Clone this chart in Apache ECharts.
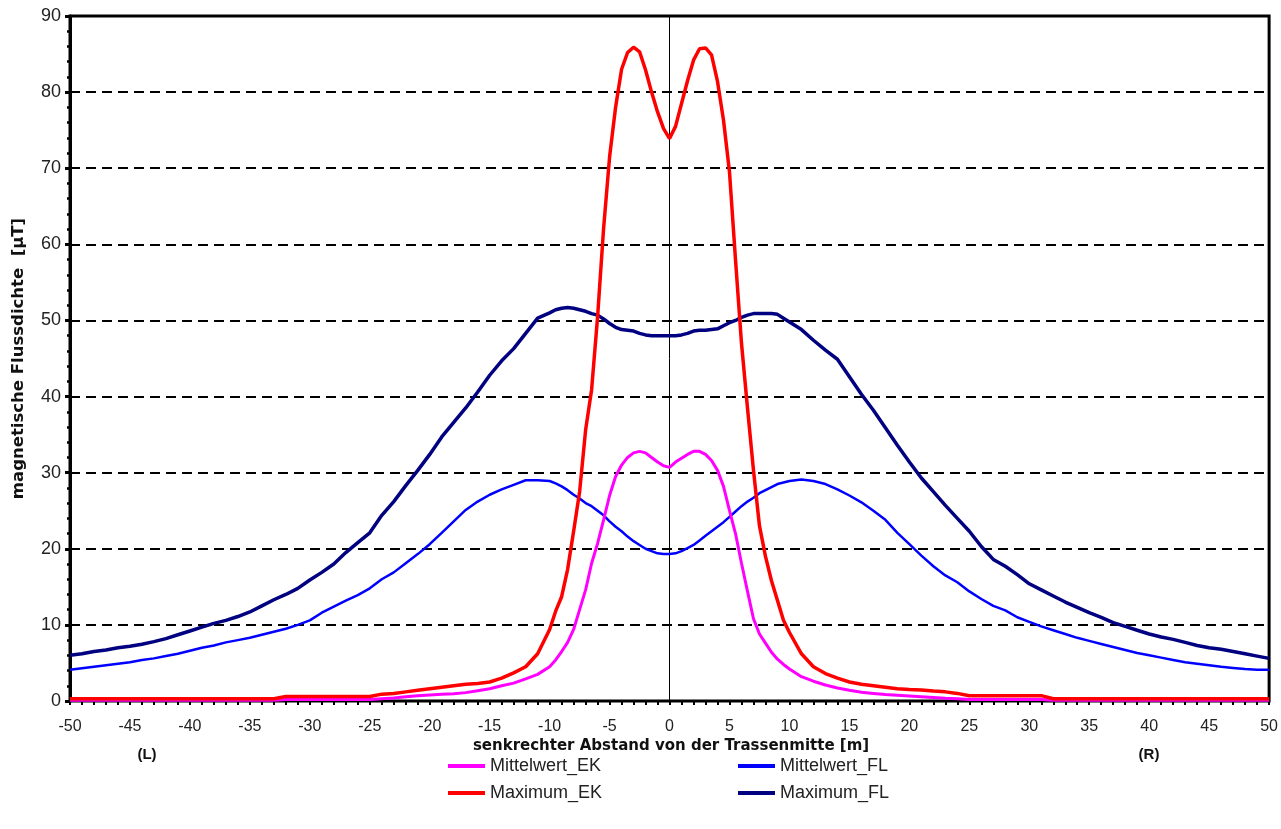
<!DOCTYPE html>
<html>
<head>
<meta charset="utf-8">
<script src="https://cdn.jsdelivr.net/npm/echarts@6/dist/echarts.min.js"></script>
<style>
html,body{margin:0;padding:0;background:#fff;}
#chart{width:1281px;height:829px;}
</style>
</head>
<body>
<div id="chart"></div>
<script>
// distance from line centre [m]
const xs = [
  -50,-49,-48,-47,-46,-45,-44,-43,-42,-41,
  -40,-39,-38,-37,-36,-35,-34,-33,-32,-31,
  -30,-29,-28,-27,-26,-25,-24,-23,-22,-21,
  -20,-19,-18,-17,-16,-15,-14,-13,-12,-11,
  -10,-9.5,-9,-8.5,-8,-7.5,-7,-6.5,-6,-5.5,
  -5,-4.5,-4,-3.5,-3,-2.5,-2,-1.5,-1,-0.5,
  0,
  0.5,1,1.5,2,2.5,3,3.5,4,4.5,5,
  5.5,6,6.5,7,7.5,8,8.5,9,9.5,10,
  11,12,13,14,15,16,17,18,19,20,
  21,22,23,24,25,26,27,28,29,30,
  31,32,33,34,35,36,37,38,39,40,
  41,42,43,44,45,46,47,48,49,50
];
const maximumFL = [
  6.0,6.2,6.5,6.7,7.0,7.2,7.45,7.8,8.2,8.7,
  9.2,9.7,10.2,10.6,11.1,11.7,12.5,13.3,14.0,14.8,
  15.9,16.9,18.0,19.5,20.8,22.1,24.4,26.2,28.3,30.3,
  32.4,34.7,36.6,38.5,40.6,42.8,44.7,46.3,48.3,50.3,
  51.0,51.4,51.6,51.7,51.6,51.4,51.2,50.9,50.7,50.2,
  49.6,49.1,48.8,48.7,48.6,48.3,48.1,48.0,48.0,48.0,
  48.0,
  48.0,48.1,48.3,48.6,48.7,48.7,48.8,48.9,49.3,49.7,
  50.0,50.4,50.7,50.9,50.9,50.9,50.9,50.8,50.3,49.8,
  48.8,47.4,46.1,44.9,42.6,40.3,38.2,35.9,33.6,31.4,
  29.3,27.5,25.7,24.0,22.3,20.3,18.6,17.7,16.6,15.4,
  14.6,13.8,13.0,12.3,11.6,11.0,10.3,9.8,9.3,8.8,
  8.4,8.1,7.7,7.3,7.0,6.8,6.5,6.2,5.9,5.6
];
const mittelwertFL = [
  4.1,4.3,4.5,4.7,4.9,5.1,5.4,5.6,5.9,6.2,
  6.6,7.0,7.3,7.7,8.0,8.3,8.7,9.1,9.5,10.0,
  10.6,11.6,12.4,13.2,13.9,14.8,16.0,16.9,18.1,19.3,
  20.6,22.1,23.6,25.1,26.2,27.1,27.8,28.4,29.0,29.0,
  28.9,28.6,28.2,27.7,27.1,26.6,26.0,25.6,25.0,24.4,
  23.6,22.9,22.3,21.6,21.0,20.5,20.0,19.7,19.4,19.3,
  19.3,
  19.4,19.7,20.1,20.5,21.1,21.7,22.3,22.9,23.5,24.2,
  24.9,25.6,26.2,26.7,27.3,27.7,28.1,28.5,28.7,28.9,
  29.1,28.9,28.5,27.8,27.0,26.1,25.0,23.8,22.1,20.6,
  19.1,17.7,16.5,15.6,14.4,13.4,12.5,11.9,11.0,10.4,
  9.8,9.3,8.8,8.3,7.9,7.5,7.1,6.7,6.3,6.0,
  5.7,5.4,5.1,4.9,4.7,4.5,4.35,4.2,4.1,4.1
];
const maximumEK = [
  0.3,0.3,0.3,0.3,0.3,0.3,0.3,0.3,0.3,0.3,
  0.3,0.3,0.3,0.3,0.3,0.3,0.3,0.3,0.6,0.6,
  0.6,0.6,0.6,0.6,0.6,0.6,0.9,1.0,1.2,1.4,
  1.6,1.8,2.0,2.2,2.3,2.5,3.0,3.7,4.5,6.2,
  9.4,11.8,13.7,17.3,22.3,27.5,35.6,40.9,50.5,62.1,
  71.5,78.0,83.0,85.2,85.9,85.3,82.9,80.0,77.4,75.2,
  73.9,
  75.5,78.5,81.5,84.2,85.7,85.8,84.9,81.4,76.3,69.5,
  58.0,47.0,38.5,30.3,23.0,19.0,15.8,13.2,10.6,9.0,
  6.2,4.5,3.6,3.0,2.5,2.2,2.0,1.8,1.6,1.5,
  1.45,1.3,1.2,1.0,0.7,0.7,0.7,0.7,0.7,0.7,
  0.7,0.3,0.3,0.3,0.3,0.3,0.3,0.3,0.3,0.3,
  0.3,0.3,0.3,0.3,0.3,0.3,0.3,0.3,0.3,0.3
];
const mittelwertEK = [
  0.1,0.1,0.1,0.1,0.1,0.1,0.1,0.1,0.1,0.1,
  0.1,0.1,0.1,0.1,0.1,0.1,0.1,0.1,0.2,0.2,
  0.2,0.2,0.2,0.2,0.2,0.2,0.3,0.4,0.55,0.7,
  0.8,0.9,0.95,1.1,1.35,1.6,2.0,2.35,2.9,3.5,
  4.5,5.4,6.5,7.7,9.4,12.0,14.6,18.1,20.7,23.8,
  27.0,29.5,31.0,32.0,32.6,32.8,32.6,32.0,31.4,30.9,
  30.7,
  31.4,31.9,32.4,32.8,32.8,32.4,31.6,30.3,28.2,25.0,
  22.0,18.1,14.4,10.8,8.8,7.6,6.4,5.5,4.8,4.2,
  3.2,2.6,2.1,1.7,1.4,1.15,1.0,0.85,0.75,0.65,
  0.55,0.45,0.35,0.3,0.2,0.2,0.2,0.2,0.2,0.2,
  0.2,0.1,0.1,0.1,0.1,0.1,0.1,0.1,0.1,0.1,
  0.1,0.1,0.1,0.1,0.1,0.1,0.1,0.1,0.1,0.1
];
const seriesNames = ['Mittelwert_EK','Maximum_EK','Mittelwert_FL','Maximum_FL'];
const seriesColors = ['#ff00ff','#ff0000','#0000ff','#000080'];
const xTitle = 'senkrechter Abstand von der Trassenmitte [m]';
const yTitle = 'magnetische Flussdichte  [µT]';
const sideLabels = ['(L)','(R)'];

const pairs = arr => xs.map((x,i)=>[x,arr[i]]);
const font = '"Liberation Sans", Arial, sans-serif';
const wideFont = '"DejaVu Sans", "Liberation Sans", sans-serif';

const chart = echarts.init(document.getElementById('chart'));
chart.setOption({
  animation:false,
  backgroundColor:'#fff',
  grid:{left:70,right:10,top:16,bottom:128,show:true,borderColor:'#000',borderWidth:3,backgroundColor:'transparent'},
  xAxis:{
    type:'value',min:-50,max:50,interval:5,
    axisLine:{show:true,onZero:false,lineStyle:{color:'#000',width:2}},
    axisTick:{show:true,length:4,lineStyle:{color:'#000',width:2}},
    minorTick:{show:true,splitNumber:5,length:4,lineStyle:{color:'#000',width:2}},
    splitLine:{show:false},
    axisLabel:{color:'#222',fontSize:16,fontFamily:font,margin:18}
  },
  yAxis:{
    type:'value',min:0,max:90,interval:10,
    name:yTitle,nameLocation:'middle',nameGap:43,
    nameTextStyle:{color:'#111',fontSize:16.5,fontWeight:'bold',fontFamily:wideFont},
    axisLine:{show:true,onZero:false,lineStyle:{color:'#000',width:3}},
    axisTick:{show:true,length:5,lineStyle:{color:'#000',width:3}},
    minorTick:{show:true,splitNumber:5,length:3,lineStyle:{color:'#000',width:2.5}},
    splitLine:{show:true,lineStyle:{color:'#000',width:2,type:[10,6]}},
    axisLabel:{color:'#222',fontSize:18,fontFamily:font,margin:9}
  },
  legend:[
    {orient:'vertical',left:443,top:752,itemWidth:37,itemHeight:4,itemGap:9,icon:'rect',
     textStyle:{color:'#222',fontSize:18,fontFamily:font},data:['Mittelwert_EK','Maximum_EK']},
    {orient:'vertical',left:733,top:752,itemWidth:37,itemHeight:4,itemGap:9,icon:'rect',
     textStyle:{color:'#222',fontSize:18,fontFamily:font},data:['Mittelwert_FL','Maximum_FL']}
  ],
  graphic:[
    {type:'text',x:671,y:746,style:{text:xTitle,fill:'#111',font:'bold 15px '+wideFont,textAlign:'center',textVerticalAlign:'middle'}},
    {type:'text',x:147,y:755,style:{text:sideLabels[0],fill:'#111',font:'bold 15px '+font,textAlign:'center',textVerticalAlign:'middle'}},
    {type:'text',x:1149,y:755,style:{text:sideLabels[1],fill:'#111',font:'bold 15px '+font,textAlign:'center',textVerticalAlign:'middle'}}
  ],
  series:[
    {name:seriesNames[2],type:'line',showSymbol:false,data:pairs(mittelwertFL),lineStyle:{color:seriesColors[2],width:2.5},itemStyle:{color:seriesColors[2]},z:2},
    {name:seriesNames[3],type:'line',showSymbol:false,data:pairs(maximumFL),lineStyle:{color:seriesColors[3],width:3.5},itemStyle:{color:seriesColors[3]},z:3},
    {name:seriesNames[0],type:'line',showSymbol:false,data:pairs(mittelwertEK),lineStyle:{color:seriesColors[0],width:3},itemStyle:{color:seriesColors[0]},z:4},
    {name:seriesNames[1],type:'line',showSymbol:false,data:pairs(maximumEK),lineStyle:{color:seriesColors[1],width:3.5},itemStyle:{color:seriesColors[1]},z:5,
     markLine:{silent:true,symbol:'none',label:{show:false},lineStyle:{color:'#000',width:1,type:'solid'},data:[{xAxis:0}],z:1}}
  ]
});
</script>
</body>
</html>
